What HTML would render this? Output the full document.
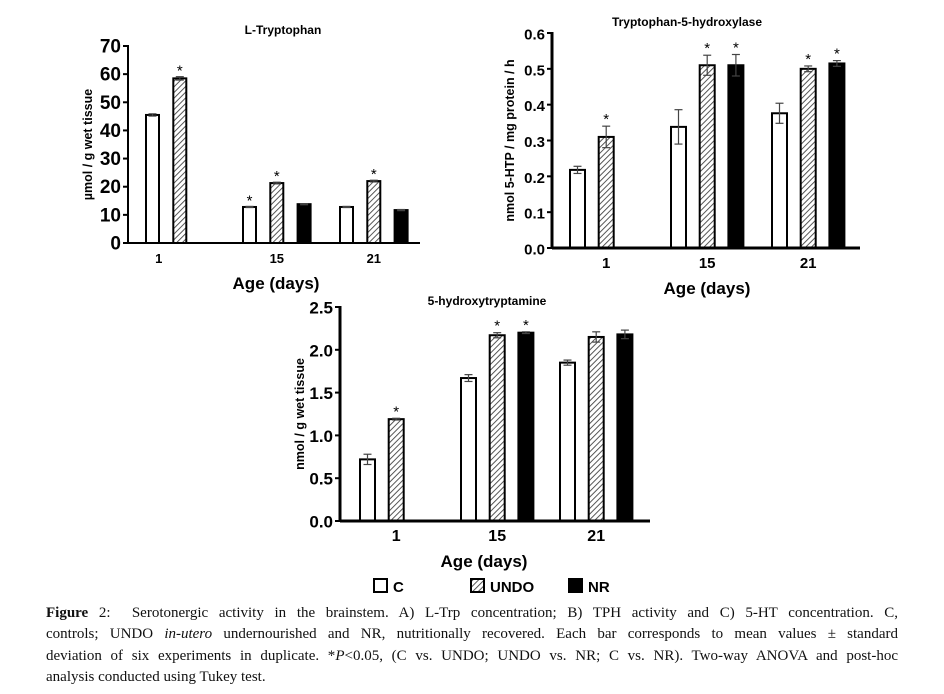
<!DOCTYPE html>
<html><head><meta charset="utf-8"><style>
html,body{margin:0;padding:0;background:#fff;width:944px;height:694px;overflow:hidden}
svg{position:absolute;left:0;top:0}
.cap{position:absolute;left:46px;top:603px;width:852px;font-family:"Liberation Serif",serif;font-size:15px;line-height:21.3px;color:#111;white-space:nowrap}
.cap span{display:block;text-align:justify;text-align-last:justify}
.cap span.last{text-align-last:left}
</style></head><body>
<svg id="fig" width="944" height="600" font-family="Liberation Sans, sans-serif">
<defs><pattern id="hatch" patternUnits="userSpaceOnUse" width="4" height="4" patternTransform="rotate(45)"><rect width="4" height="4" fill="#fff"/><line x1="0" y1="0" x2="0" y2="4" stroke="#444" stroke-width="1.8"/></pattern></defs>
</svg>
<div class="cap"><span><b>Figure</b> 2:&nbsp; Serotonergic activity in the brainstem. A) L-Trp concentration; B) TPH activity and C) 5-HT concentration. C,</span><span>controls; UNDO <i>in-utero</i> undernourished and NR, nutritionally recovered. Each bar corresponds to mean values ± standard</span><span>deviation of six experiments in duplicate. *<i>P</i>&lt;0.05, (C vs. UNDO; UNDO vs. NR; C vs. NR). Two-way ANOVA and post-hoc</span><span class="last">analysis conducted using Tukey test.</span></div>
<script>
// shared categories
const categories = ["1","15","21"];
const seriesNames = ["C","UNDO","NR"];
// Chart A: L-Tryptophan
const trpC = [45.5, 12.8, 12.8];
const trpUNDO = [58.5, 21.3, 22.0];
const trpNR = [null, 13.8, 11.7];
const trpErrC = [0.4, 0.2, 0.2];
const trpErrUNDO = [0.6, 0.3, 0.3];
const trpErrNR = [null, 0.2, 0.2];
const trpStarC = [false, true, false];
const trpStarUNDO = [true, true, true];
const trpStarNR = [false, false, false];
const trpTicks = [0,10,20,30,40,50,60,70];
// Chart B: Tryptophan-5-hydroxylase
const tphC = [0.218, 0.338, 0.376];
const tphUNDO = [0.31, 0.51, 0.50];
const tphNR = [null, 0.51, 0.515];
const tphErrC = [0.01, 0.048, 0.028];
const tphErrUNDO = [0.03, 0.028, 0.008];
const tphErrNR = [null, 0.03, 0.008];
const tphStarC = [false, false, false];
const tphStarUNDO = [true, true, true];
const tphStarNR = [false, true, true];
const tphTicks = ["0.0","0.1","0.2","0.3","0.4","0.5","0.6"];
// Chart C: 5-hydroxytryptamine
const htC = [0.72, 1.67, 1.85];
const htUNDO = [1.19, 2.17, 2.15];
const htNR = [null, 2.20, 2.18];
const htErrC = [0.06, 0.04, 0.03];
const htErrUNDO = [0.01, 0.03, 0.06];
const htErrNR = [null, 0.01, 0.05];
const htStarC = [false, false, false];
const htStarUNDO = [true, true, false];
const htStarNR = [false, true, false];
const htTicks = ["0.0","0.5","1.0","1.5","2.0","2.5"];

const NS="http://www.w3.org/2000/svg";
const svg=document.getElementById('fig');
function mk(tag,attrs,parent,text){const e=document.createElementNS(NS,tag);for(const k in attrs)e.setAttribute(k,attrs[k]);if(text!==undefined)e.textContent=text;(parent||svg).appendChild(e);return e;}

function chart(cfg){
  const g=mk('g',{});
  
  
  const yScale=v=>cfg.y0-(v-cfg.min)/(cfg.max-cfg.min)*(cfg.y0-cfg.yTop);
  const xScale=(ci,si)=>cfg.groupX[ci]+si*cfg.step;
  const t=mk('text',{x:cfg.titleX,y:cfg.titleY,'text-anchor':'middle','font-size':12,'font-weight':'bold'},g,cfg.title);
  
  
  cfg.ticks.forEach(tk=>{
    const v=parseFloat(tk), y=yScale(v);
    mk('line',{x1:cfg.x0-5,x2:cfg.x0,y1:y,y2:y,stroke:'#000','stroke-width':2},g);
    const l=mk('text',{x:cfg.x0-7,y:y+6.5,'text-anchor':'end','font-size':cfg.tickFont,'font-weight':cfg.tickWeight},g,tk);
    
    
  });
  const vals=[cfg.c,cfg.u,cfg.n], errs=[cfg.ec,cfg.eu,cfg.en], stars=[cfg.sc,cfg.su,cfg.sn];
  const fills=['#fff','url(#hatch)','#000'];
  categories.forEach((cat,ci)=>{
    for(let si=0;si<3;si++){
      const v=vals[si][ci]; if(v===null) continue;
      const x=xScale(ci,si), y=yScale(v), y0=yScale(cfg.min);
      const b=mk('rect',{x:x+1,y:y,width:cfg.bw-2,height:y0-y,fill:fills[si],stroke:'#000','stroke-width':2},g);
      
      
      const e=errs[si][ci]; const cx=x+cfg.bw/2;
      if(e){const ya=yScale(v+e), yb=yScale(v-e);
        mk('line',{x1:cx,x2:cx,y1:ya,y2:yb,stroke:'#444','stroke-width':1.2},g);
        mk('line',{x1:cx-4,x2:cx+4,y1:ya,y2:ya,stroke:'#444','stroke-width':1.2},g);
        mk('line',{x1:cx-4,x2:cx+4,y1:yb,y2:yb,stroke:'#444','stroke-width':1.2},g);}
      if(stars[si][ci]){const s=mk('text',{x:cx,y:yScale(v+(e||0))-cfg.starGap,'text-anchor':'middle','font-size':15},g,'*');
        
        }
    }
    const lx=xScale(ci,1)+cfg.bw/2;
    const lab=mk('text',{x:lx+(ci===0?cfg.firstOff:0),y:cfg.y0+20,'text-anchor':'middle','font-size':cfg.catFont,'font-weight':'bold'},g,cat);
    
    
  });
  mk('line',{x1:cfg.x0,x2:cfg.x0,y1:cfg.yTop-1,y2:cfg.y0+1,stroke:'#000','stroke-width':cfg.axisW},g);
  mk('line',{x1:cfg.x0,x2:cfg.xEnd,y1:cfg.y0,y2:cfg.y0,stroke:'#000','stroke-width':cfg.axisW},g);
  const xt=mk('text',{x:cfg.xTitleX,y:cfg.y0+46,'text-anchor':'middle','font-size':17,'font-weight':'bold'},g,'Age (days)');
  
  
  const yc=(cfg.y0+cfg.yTop)/2;
  const yt=mk('text',{x:cfg.yLabX,y:yc,'text-anchor':'middle','font-size':12.5,'font-weight':'bold',transform:`rotate(-90 ${cfg.yLabX} ${yc})`},g,cfg.ylabel);
  
  
}

chart({name:'chart-l-tryptophan',title:'L-Tryptophan',titleX:283,titleY:34,x0:128,xEnd:420,y0:243,yTop:46,min:0,max:70,
  ticks:trpTicks.map(String),tickFont:19,tickWeight:'bold',catFont:13,groupX:[145,242,339],step:27.3,bw:15,firstOff:-21,
  c:trpC,u:trpUNDO,n:trpNR,ec:trpErrC,eu:trpErrUNDO,en:trpErrNR,sc:trpStarC,su:trpStarUNDO,sn:trpStarNR,
  axisW:2,xTitleX:276,yLabX:92,ylabel:'µmol / g  wet  tissue',starGap:1});
chart({name:'chart-tryptophan-5-hydroxylase',title:'Tryptophan-5-hydroxylase',titleX:687,titleY:26,x0:552,xEnd:860,y0:248,yTop:33,min:0,max:0.6,
  ticks:tphTicks,tickFont:15,tickWeight:'bold',catFont:15,groupX:[569,670,771],step:28.7,bw:17,firstOff:0,
  c:tphC,u:tphUNDO,n:tphNR,ec:tphErrC,eu:tphErrUNDO,en:tphErrNR,sc:tphStarC,su:tphStarUNDO,sn:tphStarNR,
  axisW:3,xTitleX:707,yLabX:514,ylabel:'nmol 5-HTP / mg  protein / h',starGap:2});
chart({name:'chart-5-hydroxytryptamine',title:'5-hydroxytryptamine',titleX:487,titleY:305,x0:340,xEnd:650,y0:521,yTop:307,min:0,max:2.5,
  ticks:htTicks,tickFont:17,tickWeight:'bold',catFont:16,groupX:[359,460,559],step:28.7,bw:17,firstOff:0,
  c:htC,u:htUNDO,n:htNR,ec:htErrC,eu:htErrUNDO,en:htErrNR,sc:htStarC,su:htStarUNDO,sn:htStarNR,
  axisW:3,xTitleX:484,yLabX:304,ylabel:'nmol / g  wet  tissue',starGap:2});

const leg=mk('g',{});


const legFills=['#fff','url(#hatch)','#000'];
const legX=[373,470,568];
seriesNames.forEach((n,i)=>{
  const e=mk('g',{},leg);
  
  
  mk('rect',{x:legX[i]+1,y:579,width:13,height:13,fill:legFills[i],stroke:'#000','stroke-width':2},e);
  mk('text',{x:legX[i]+20,y:592,'font-size':15,'font-weight':'bold'},e,n);
});
</script>
</body></html>
